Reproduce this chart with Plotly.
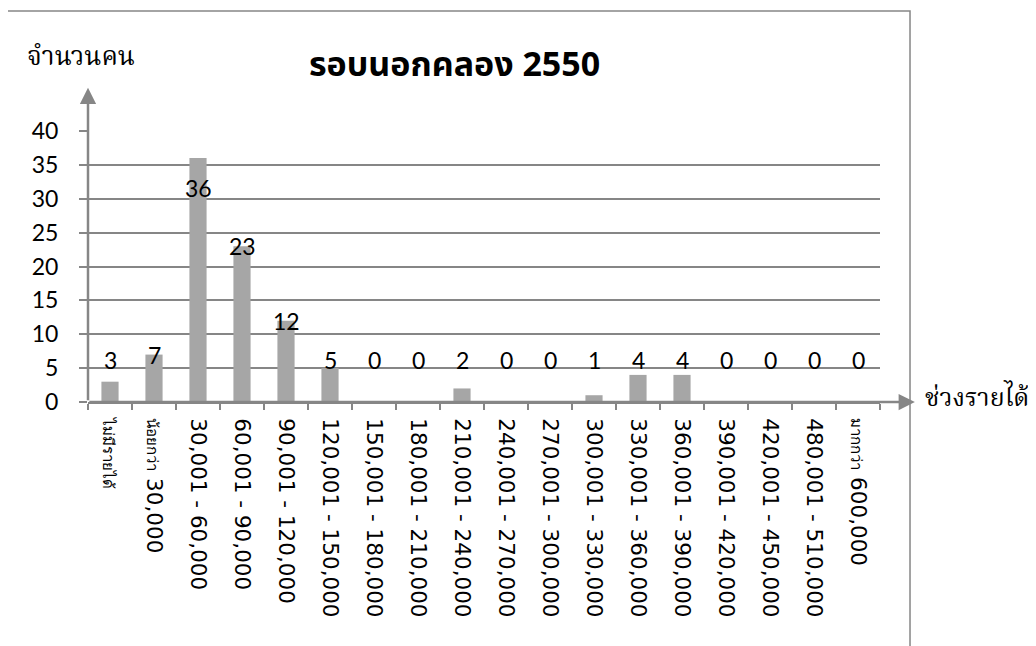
import plotly.graph_objects as go

categories = ["ไม่มีรายได้", "น้อยกว่า 30,000", "30,001 - 60,000", "60,001 - 90,000",
              "90,001 - 120,000", "120,001 - 150,000", "150,001 - 180,000",
              "180,001 - 210,000", "210,001 - 240,000", "240,001 - 270,000",
              "270,001 - 300,000", "300,001 - 330,000", "330,001 - 360,000",
              "360,001 - 390,000", "390,001 - 420,000", "420,001 - 450,000",
              "480,001 - 510,000", "มากกว่า 600,000"]
values = [3, 7, 36, 23, 12, 5, 0, 0, 2, 0, 0, 1, 4, 4, 0, 0, 0, 0]
y_ticks = [0, 5, 10, 15, 20, 25, 30, 35, 40]
title_text = "รอบนอกคลอง 2550"
y_title = "จำนวนคน"
x_title = "ช่วงรายได้"

SANS = "'Noto Sans', 'Open Sans', 'Noto Sans Thai', sans-serif"
WIDE = "'DejaVu Sans', 'Noto Sans', sans-serif"
LABEL = "Lato, 'Noto Sans', sans-serif"
THAI_SERIF = "'Noto Serif Thai', 'TH Sarabun New', 'Angsana New', 'Noto Sans Thai', serif"
GRAY = "#868686"

def tick_label(c):
    if c.startswith("ไม่มี"):
        return f'<span style="font-size:15px;fill:black">{c}</span>'
    if c.startswith("น้อยกว่า") or c.startswith("มากกว่า"):
        word, num = c.split(" ")
        return f'<span style="font-size:15px;fill:black">{word}</span> {num}'
    return c

fig = go.Figure()
fig.add_trace(go.Bar(x=categories, y=values, marker=dict(color="#a6a6a6", line=dict(width=0)),
                     hoverinfo="skip"))

annotations = []
for c, v in zip(categories, values):
    if v > 30:
        annotations.append(dict(x=c, y=v, xref="x", yref="y", text=str(v), showarrow=False,
                                yanchor="top", yshift=-14, font=dict(size=23, family=LABEL, color="black")))
    else:
        annotations.append(dict(x=c, y=max(v, 6.2), xref="x", yref="y", text=str(v), showarrow=False,
                                yanchor="middle", font=dict(size=23, family=LABEL, color="black")))

# axis arrows
annotations.append(dict(x=0, y=1.16, xref="x domain", yref="y domain", ax=0, ay=314,
                        axref="pixel", ayref="pixel", showarrow=True, arrowhead=2, arrowsize=1.3,
                        arrowwidth=2.5, arrowcolor=GRAY, text=""))
annotations.append(dict(x=1.044, y=0, xref="x domain", yref="y domain", ax=-827, ay=0,
                        axref="pixel", ayref="pixel", showarrow=True, arrowhead=2, arrowsize=1.3,
                        arrowwidth=2.5, arrowcolor=GRAY, text=""))
# titles
annotations.append(dict(x=0.463, y=1.25, xref="paper", yref="paper", text=f"<b>{title_text}</b>",
                        showarrow=False, font=dict(size=34, family=SANS, color="black"),
                        xanchor="center", yanchor="middle"))
annotations.append(dict(x=-0.079, y=1.27, xref="paper", yref="paper", text=y_title,
                        showarrow=False, font=dict(size=26, family=THAI_SERIF, color="black"),
                        xanchor="left", yanchor="middle"))
annotations.append(dict(x=1.054, y=0.012, xref="paper", yref="paper", text=x_title,
                        showarrow=False, font=dict(size=25, family=THAI_SERIF, color="black"),
                        xanchor="left", yanchor="middle"))

fig.update_layout(
    width=1028, height=638,
    margin=dict(l=80, r=156, t=123, b=244),
    paper_bgcolor="white", plot_bgcolor="white",
    showlegend=False,
    bargap=0.61,
    annotations=annotations,
    shapes=[dict(type="rect", xref="paper", yref="paper", x0=-0.1023, x1=1.0379, y0=-0.95, y1=1.4428,
                 line=dict(color=GRAY, width=1.5), layer="below")],
    xaxis=dict(type="category", tickmode="array", tickvals=categories,
               ticktext=[tick_label(c) for c in categories],
               tickangle=90, tickson="boundaries", ticks="outside", ticklen=6, tickcolor=GRAY,
               tickwidth=1.5, showline=True, linecolor=GRAY, linewidth=2, showgrid=False,
               tickfont=dict(size=21.5, family=WIDE, color="black"), ticklabelstandoff=10,
               range=[-0.5, 17.5]),
    yaxis=dict(range=[0, 40], tickvals=y_ticks, showgrid=True, gridcolor=GRAY, gridwidth=1.5,
               ticks="outside", ticklen=8, tickcolor=GRAY, tickwidth=1.5, showline=False,
               zeroline=False, ticklabelstandoff=16,
               tickfont=dict(size=23, family=LABEL, color="black")),
)

fig.write_html("out.html")
